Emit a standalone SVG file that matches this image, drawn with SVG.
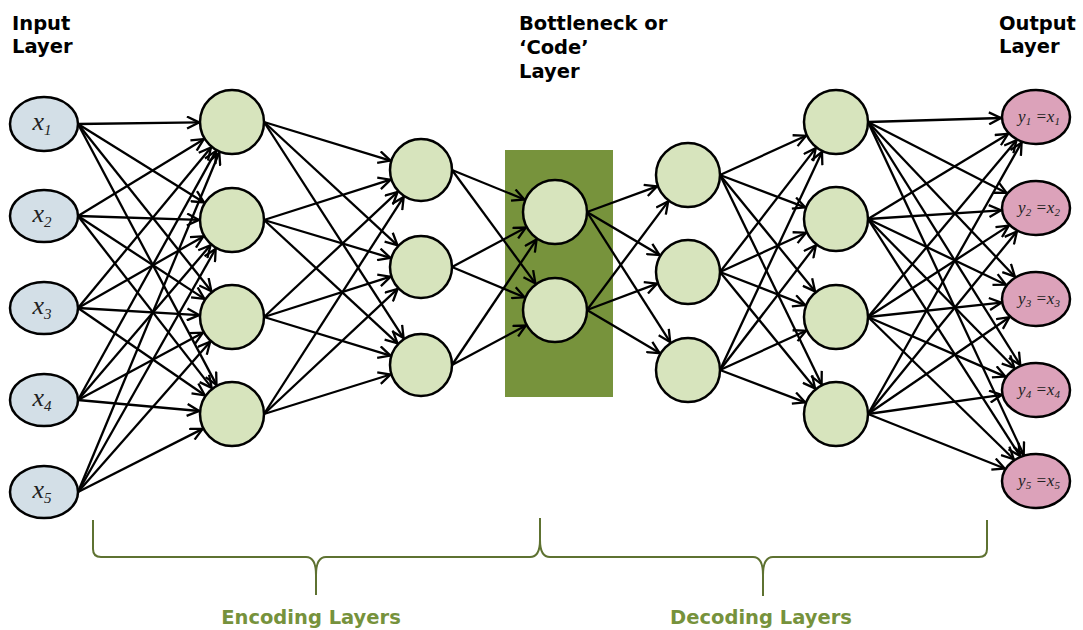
<svg xmlns="http://www.w3.org/2000/svg" width="1083" height="630" viewBox="0 0 1083 630">
  <style>
    .lbl { font-family: "DejaVu Sans", Verdana, sans-serif; font-weight: bold; font-size: 19.5px; fill: #000; }
    .grp { font-family: "DejaVu Sans", Verdana, sans-serif; font-weight: bold; font-size: 19.5px; fill: #76923C; }
    .in { fill: #D3DFE7; stroke: #000; stroke-width: 2.5; }
    .hid { fill: #D7E4BD; stroke: #000; stroke-width: 2.5; }
    .out { fill: #DCA2BA; stroke: #000; stroke-width: 2.5; }
    .var { font-family: "Liberation Serif", "Times New Roman", serif; font-style: italic; fill: #222; }
    .conn line { stroke: #000; stroke-width: 2.3; marker-end: url(#arrow); }
    .brace { fill: none; stroke: #5E7231; stroke-width: 2; }
  </style>
  <defs>
    <marker id="arrow" viewBox="0 0 14 14" refX="13" refY="7" markerWidth="14" markerHeight="14" markerUnits="userSpaceOnUse" orient="auto">
      <path d="M1,1 L13,7 L1,13" fill="none" stroke="#000" stroke-width="2.3"/>
    </marker>
  </defs>
  <rect width="1083" height="630" fill="#fff"/>

  <!-- layer captions -->
  <g id="caption-input">
    <text class="lbl" x="12" y="30">Input</text>
    <text class="lbl" x="12" y="53">Layer</text>
  </g>
  <g id="caption-code">
    <text class="lbl" x="519" y="30">Bottleneck or</text>
    <text class="lbl" x="519" y="54">‘Code’</text>
    <text class="lbl" x="519" y="78">Layer</text>
  </g>
  <g id="caption-output">
    <text class="lbl" x="999" y="30">Output</text>
    <text class="lbl" x="999" y="53">Layer</text>
  </g>

  <!-- bottleneck band -->
  <rect id="code-band" x="505" y="150" width="108" height="247" fill="#77933C"/>

  <!-- connectors -->
  <g id="connectors" class="conn">
    <!-- input -> hidden 1 -->
    <line x1="78" y1="124" x2="199" y2="122.4"/>
    <line x1="78" y1="124" x2="204" y2="202.5"/>
    <line x1="78" y1="124" x2="211.4" y2="291.2"/>
    <line x1="78" y1="124" x2="216.5" y2="384.9"/>
    <line x1="78" y1="216" x2="203.8" y2="139.2"/>
    <line x1="78" y1="216" x2="199" y2="219.9"/>
    <line x1="78" y1="216" x2="204.4" y2="298.9"/>
    <line x1="78" y1="216" x2="211.7" y2="387.9"/>
    <line x1="78" y1="308" x2="211" y2="147.4"/>
    <line x1="78" y1="308" x2="203.4" y2="236.4"/>
    <line x1="78" y1="308" x2="199.1" y2="315.1"/>
    <line x1="78" y1="308" x2="204.8" y2="395.3"/>
    <line x1="78" y1="400" x2="216" y2="150.9"/>
    <line x1="78" y1="400" x2="210.6" y2="245.1"/>
    <line x1="78" y1="400" x2="202.9" y2="332.7"/>
    <line x1="78" y1="400" x2="199.1" y2="411"/>
    <line x1="78" y1="492" x2="219.3" y2="152.5"/>
    <line x1="78" y1="492" x2="215.7" y2="248.7"/>
    <line x1="78" y1="492" x2="210.2" y2="341.8"/>
    <line x1="78" y1="492" x2="202.6" y2="428.9"/>
    <!-- hidden 1 -> hidden 2 -->
    <line x1="264" y1="122" x2="390.4" y2="160.6"/>
    <line x1="264" y1="122" x2="397.5" y2="245.3"/>
    <line x1="264" y1="122" x2="403.6" y2="338.1"/>
    <line x1="264" y1="220" x2="390.5" y2="179.7"/>
    <line x1="264" y1="220" x2="390.3" y2="257.8"/>
    <line x1="264" y1="220" x2="397.5" y2="343.3"/>
    <line x1="264" y1="317" x2="397.6" y2="191.9"/>
    <line x1="264" y1="317" x2="390.5" y2="276.7"/>
    <line x1="264" y1="317" x2="390.4" y2="355.6"/>
    <line x1="264" y1="414" x2="403.7" y2="196.9"/>
    <line x1="264" y1="414" x2="397.6" y2="288.9"/>
    <line x1="264" y1="414" x2="390.5" y2="374.5"/>
    <!-- hidden 2 -> code -->
    <line x1="452" y1="170" x2="524.4" y2="199.5"/>
    <line x1="452" y1="170" x2="535.4" y2="283.4"/>
    <line x1="452" y1="267" x2="525.9" y2="227.5"/>
    <line x1="452" y1="267" x2="524.5" y2="297.3"/>
    <line x1="452" y1="365" x2="536.6" y2="239.4"/>
    <line x1="452" y1="365" x2="525.9" y2="325.5"/>
    <!-- code -> hidden 4 -->
    <line x1="587" y1="212" x2="657" y2="186.3"/>
    <line x1="587" y1="212" x2="659.6" y2="255.1"/>
    <line x1="587" y1="212" x2="670.2" y2="342.2"/>
    <line x1="587" y1="310" x2="668.2" y2="201.4"/>
    <line x1="587" y1="310" x2="657.1" y2="283.6"/>
    <line x1="587" y1="310" x2="659.6" y2="353.1"/>
    <!-- hidden 4 -> hidden 5 -->
    <line x1="720" y1="175" x2="806" y2="135.7"/>
    <line x1="720" y1="175" x2="805.2" y2="207.3"/>
    <line x1="720" y1="175" x2="815.1" y2="291.4"/>
    <line x1="720" y1="175" x2="821.6" y2="384.3"/>
    <line x1="720" y1="272" x2="815.8" y2="148.1"/>
    <line x1="720" y1="272" x2="806" y2="232.7"/>
    <line x1="720" y1="272" x2="805.2" y2="305.1"/>
    <line x1="720" y1="272" x2="815.1" y2="388.4"/>
    <line x1="720" y1="370" x2="822" y2="151.9"/>
    <line x1="720" y1="370" x2="815.9" y2="245.2"/>
    <line x1="720" y1="370" x2="806" y2="330.7"/>
    <line x1="720" y1="370" x2="805.2" y2="402.3"/>
    <!-- hidden 5 -> output -->
    <line x1="868" y1="122" x2="1001" y2="118"/>
    <line x1="868" y1="122" x2="1006.5" y2="192.9"/>
    <line x1="868" y1="122" x2="1014.9" y2="276.7"/>
    <line x1="868" y1="122" x2="1020.3" y2="365"/>
    <line x1="868" y1="122" x2="1023.7" y2="454.8"/>
    <line x1="868" y1="219" x2="1008.1" y2="133.9"/>
    <line x1="868" y1="219" x2="1001.1" y2="210.3"/>
    <line x1="868" y1="219" x2="1005.9" y2="284.7"/>
    <line x1="868" y1="219" x2="1014.4" y2="368"/>
    <line x1="868" y1="219" x2="1020" y2="456.1"/>
    <line x1="868" y1="317" x2="1016.5" y2="140.2"/>
    <line x1="868" y1="317" x2="1008.8" y2="225.6"/>
    <line x1="868" y1="317" x2="1001.4" y2="302.7"/>
    <line x1="868" y1="317" x2="1005.3" y2="376.6"/>
    <line x1="868" y1="317" x2="1013.8" y2="459.3"/>
    <line x1="868" y1="414" x2="1021.6" y2="142.5"/>
    <line x1="868" y1="414" x2="1016.9" y2="231.4"/>
    <line x1="868" y1="414" x2="1009.4" y2="317.2"/>
    <line x1="868" y1="414" x2="1001.7" y2="394.9"/>
    <line x1="868" y1="414" x2="1004.7" y2="468.5"/>
  </g>

  <!-- input layer -->
  <g id="x1"><ellipse class="in" cx="44" cy="124" rx="34" ry="27"/><text class="var" x="42" y="130" text-anchor="middle" font-size="26">x<tspan font-size="15" dy="5">1</tspan></text></g>
  <g id="x2"><ellipse class="in" cx="44" cy="216" rx="34" ry="26"/><text class="var" x="42" y="222" text-anchor="middle" font-size="26">x<tspan font-size="15" dy="5">2</tspan></text></g>
  <g id="x3"><ellipse class="in" cx="44" cy="308" rx="34" ry="26"/><text class="var" x="42" y="314" text-anchor="middle" font-size="26">x<tspan font-size="15" dy="5">3</tspan></text></g>
  <g id="x4"><ellipse class="in" cx="44" cy="400" rx="34" ry="26"/><text class="var" x="42" y="406" text-anchor="middle" font-size="26">x<tspan font-size="15" dy="5">4</tspan></text></g>
  <g id="x5"><ellipse class="in" cx="44" cy="492" rx="34" ry="26"/><text class="var" x="42" y="498" text-anchor="middle" font-size="26">x<tspan font-size="15" dy="5">5</tspan></text></g>

  <!-- encoder hidden layer 1 -->
  <g id="h1-1"><circle class="hid" cx="232" cy="122" r="32"/></g>
  <g id="h1-2"><circle class="hid" cx="232" cy="220" r="32"/></g>
  <g id="h1-3"><circle class="hid" cx="232" cy="317" r="32"/></g>
  <g id="h1-4"><circle class="hid" cx="232" cy="414" r="32"/></g>

  <!-- encoder hidden layer 2 -->
  <g id="h2-1"><circle class="hid" cx="421" cy="170" r="31"/></g>
  <g id="h2-2"><circle class="hid" cx="421" cy="267" r="31"/></g>
  <g id="h2-3"><circle class="hid" cx="421" cy="365" r="31"/></g>

  <!-- code layer -->
  <g id="code-1"><circle class="hid" cx="555" cy="212" r="32"/></g>
  <g id="code-2"><circle class="hid" cx="555" cy="310" r="32"/></g>

  <!-- decoder hidden layer 1 -->
  <g id="h4-1"><circle class="hid" cx="688" cy="175" r="32"/></g>
  <g id="h4-2"><circle class="hid" cx="688" cy="272" r="32"/></g>
  <g id="h4-3"><circle class="hid" cx="688" cy="370" r="32"/></g>

  <!-- decoder hidden layer 2 -->
  <g id="h5-1"><circle class="hid" cx="836" cy="122" r="32"/></g>
  <g id="h5-2"><circle class="hid" cx="836" cy="219" r="32"/></g>
  <g id="h5-3"><circle class="hid" cx="836" cy="317" r="32"/></g>
  <g id="h5-4"><circle class="hid" cx="836" cy="414" r="32"/></g>

  <!-- output layer -->
  <g id="y1"><ellipse class="out" cx="1036" cy="117" rx="34" ry="27"/><text class="var" x="1039" y="122" text-anchor="middle" font-size="17">y<tspan font-size="11" dy="3">1</tspan><tspan dy="-3"> =x</tspan><tspan font-size="11" dy="3">1</tspan></text></g>
  <g id="y2"><ellipse class="out" cx="1036" cy="208" rx="34" ry="27"/><text class="var" x="1039" y="213" text-anchor="middle" font-size="17">y<tspan font-size="11" dy="3">2</tspan><tspan dy="-3"> =x</tspan><tspan font-size="11" dy="3">2</tspan></text></g>
  <g id="y3"><ellipse class="out" cx="1036" cy="299" rx="34" ry="27"/><text class="var" x="1039" y="304" text-anchor="middle" font-size="17">y<tspan font-size="11" dy="3">3</tspan><tspan dy="-3"> =x</tspan><tspan font-size="11" dy="3">3</tspan></text></g>
  <g id="y4"><ellipse class="out" cx="1036" cy="390" rx="34" ry="27"/><text class="var" x="1039" y="395" text-anchor="middle" font-size="17">y<tspan font-size="11" dy="3">4</tspan><tspan dy="-3"> =x</tspan><tspan font-size="11" dy="3">4</tspan></text></g>
  <g id="y5"><ellipse class="out" cx="1036" cy="481" rx="34" ry="27"/><text class="var" x="1039" y="486" text-anchor="middle" font-size="17">y<tspan font-size="11" dy="3">5</tspan><tspan dy="-3"> =x</tspan><tspan font-size="11" dy="3">5</tspan></text></g>

  <!-- braces grouping encoder and decoder -->
  <g id="brace-encoding">
    <path class="brace" d="M93,520 L93,549 Q93,557 101,557 L306,557 Q316,557 316,575 L316,595 M316,575 Q316,557 326,557 L530,557 Q540,557 540,540 L540,518"/>
    <text class="grp" x="311" y="624" text-anchor="middle">Encoding Layers</text>
  </g>
  <g id="brace-decoding">
    <path class="brace" d="M540,518 L540,540 Q540,557 550,557 L753,557 Q763,557 763,575 L763,596 M763,575 Q763,557 773,557 L979,557 Q987,557 987,549 L987,520"/>
    <text class="grp" x="761" y="624" text-anchor="middle">Decoding Layers</text>
  </g>
</svg>
